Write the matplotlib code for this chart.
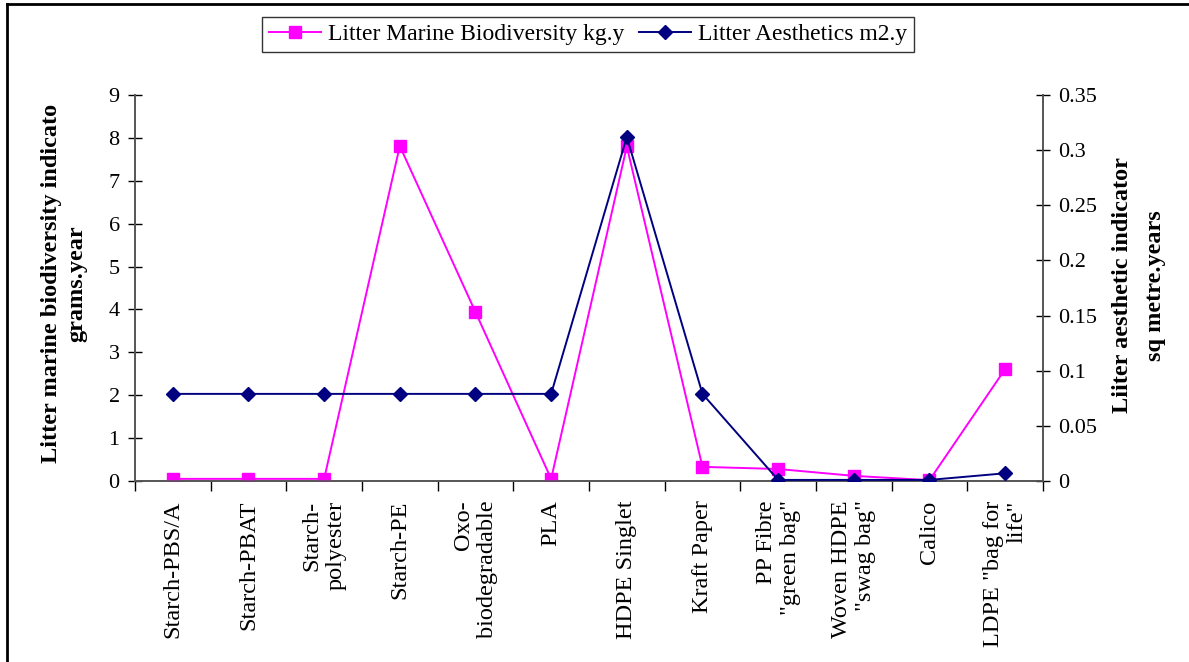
import matplotlib
matplotlib.use("Agg")
import matplotlib.pyplot as plt
import numpy as np

# data
categories = ['Starch-PBS/A', 'Starch-PBAT', 'Starch-\npolyester', 'Starch-PE',
              'Oxo-\nbiodegradable', 'PLA', 'HDPE Singlet', 'Kraft Paper',
              'PP Fibre\n"green bag"', 'Woven HDPE\n"swag bag"', 'Calico',
              'LDPE "bag for\nlife"']
biodiversity = [0.05, 0.05, 0.05, 7.81, 3.94, 0.05, 7.8, 0.33, 0.28, 0.12, 0.02, 2.61]
aesthetics = [0.079, 0.079, 0.079, 0.079, 0.079, 0.079, 0.312, 0.079, 0.001, 0.001, 0.001, 0.007]
left_ticks = np.arange(0, 10, 1)
right_ticks = [0, 0.05, 0.1, 0.15, 0.2, 0.25, 0.3, 0.35]

plt.rcParams['font.family'] = ['Liberation Serif', 'DejaVu Serif']

fig = plt.figure(figsize=(11.89, 6.62), dpi=100)
ax = fig.add_axes([0.1135, 0.2734, 0.7637, 0.5831])
ax2 = ax.twinx()

x = np.arange(len(categories))
l1, = ax.plot(x, biodiversity, color='#FF00FF', lw=1.4, marker='s', ms=8.5,
              label='Litter Marine Biodiversity kg.y', zorder=3)
l2, = ax2.plot(x, aesthetics, color='#000080', lw=1.4, marker='D', ms=7.5,
               label='Litter Aesthetics m2.y', zorder=3)

ax.set_xlim(-0.5, len(categories) - 0.5)
ax.set_ylim(0, 9)
ax2.set_ylim(0, 0.35)
ax.set_yticks(left_ticks)
ax.set_yticklabels([str(v) for v in left_ticks])
ax2.set_yticks(right_ticks)
ax2.set_yticklabels(['0', '0.05', '0.1', '0.15', '0.2', '0.25', '0.3', '0.35'])

# category boundaries carry the ticks, labels sit at centres
ax.set_xticks(np.arange(-0.5, len(categories), 1))
ax.set_xticklabels([])
ax.set_xticks(x, minor=True)
ax.set_xticklabels(categories, minor=True, rotation=90, ha='center', va='top',
                   multialignment='right', fontsize=17.5, linespacing=1.2)
ax.tick_params(axis='x', which='minor', length=0, pad=14)
ax.tick_params(axis='x', which='major', direction='out', length=7, width=1, color='black')
ax.tick_params(axis='y', direction='inout', length=10, width=1, labelsize=16, pad=6)
ax2.tick_params(axis='y', direction='inout', length=10, width=1, labelsize=16, pad=6)

for a in (ax, ax2):
    a.spines['top'].set_visible(False)
    for s in ('left', 'right', 'bottom'):
        a.spines[s].set_color('#555555')
        a.spines[s].set_linewidth(1.2)

fig.text(0.054, 0.572, 'Litter marine biodiversity indicato\ngrams.year', rotation=90,
         ha='center', va='center', multialignment='center', fontsize=17.5,
         fontweight='bold', linespacing=1.3)
fig.text(0.958, 0.569, 'Liiter aesthetic indicator\nsq metre.years', rotation=90,
         ha='center', va='center', multialignment='center', fontsize=17.5,
         fontweight='bold', linespacing=1.7)

leg = fig.legend(handles=[l1, l2], loc='center', bbox_to_anchor=(0.4945, 0.948),
                 ncol=2, fontsize=17, frameon=True, fancybox=False, shadow=False,
                 handlelength=2.2, handletextpad=0.3, columnspacing=0.6,
                 borderpad=0.3)
leg.get_frame().set_edgecolor('black')
leg.get_frame().set_linewidth(1)

# outer frame: only top and left edges are visible in the reference
fig.add_artist(plt.Line2D([0.006, 0.006], [0, 0.994], transform=fig.transFigure,
                          color='black', lw=2))
fig.add_artist(plt.Line2D([0.006, 1], [0.994, 0.994], transform=fig.transFigure,
                          color='black', lw=2))

fig.savefig('out.png', dpi=100)
